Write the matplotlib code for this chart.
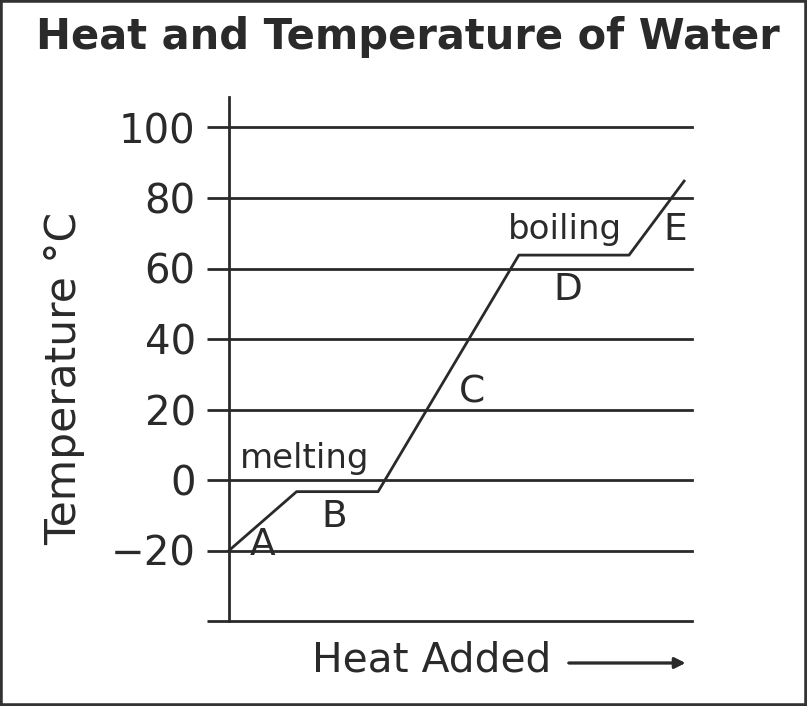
import matplotlib.pyplot as plt
from matplotlib.patches import Rectangle

# data
heat = [0, 14.6, 32.2, 62.6, 86.4, 98.3]
temp = [-20, -3.3, -3.3, 63.8, 63.8, 84.8]
yticks = [-40, -20, 0, 20, 40, 60, 80, 100]
ylabels = ['', '\u221220', '0', '20', '40', '60', '80', '100']
letters = ['A', 'B', 'C', 'D', 'E']
letter_x = [7.3, 22.7, 52.5, 73.2, 96.3]
letter_y = [-18.4, -10.5, 24.7, 53.9, 70.9]
phases = ['melting', 'boiling']
phase_x = [16.4, 72.6]
phase_y = [6.0, 71.2]

ink = '#2a2a2a'
W, H = 807, 706
fig = plt.figure(figsize=(W / 100, H / 100), dpi=100)
ax = fig.add_axes([229 / W, 1 - 621 / H, (692 - 229) / W, (621 - 97) / H])
ax.set_xlim(0, 100)
ax.set_ylim(-40, (480 - 97) / 3.525)

for s in ['top', 'right', 'bottom']:
    ax.spines[s].set_visible(False)
ax.spines['left'].set_color(ink)
ax.spines['left'].set_linewidth(2)

for v in yticks:
    ax.axhline(v, color=ink, lw=2, zorder=1, clip_on=False)

ax.set_yticks(yticks)
ax.set_yticklabels(ylabels, fontsize=29, color=ink)
ax.tick_params(axis='y', length=16, width=2, color=ink, pad=8)
ax.set_xticks([])

ax.plot(heat, temp, color=ink, lw=2, zorder=3, clip_on=False)

for t, x, y in zip(letters, letter_x, letter_y):
    ax.text(x, y, t, fontsize=27, color=ink, ha='center', va='center')
for t, x, y in zip(phases, phase_x, phase_y):
    ax.text(x, y, t, fontsize=24.5, color=ink, ha='center', va='center')

fig.text(408 / W, 1 - 37 / H, 'Heat and Temperature of Water', fontsize=30,
         fontweight='bold', color=ink, ha='center', va='center')
fig.text(64 / W, 1 - 378 / H, 'Temperature \u00b0C', fontsize=30.5, color=ink,
         rotation=90, ha='center', va='center')
fig.text(432 / W, 1 - 660 / H, 'Heat Added', fontsize=29.3, color=ink,
         ha='center', va='center')
fig.add_artist(plt.annotate('', xy=(688 / W, 1 - 663 / H), xytext=(566 / W, 1 - 663 / H),
                            xycoords='figure fraction',
                            arrowprops=dict(arrowstyle='-|>', color=ink, lw=2,
                                            mutation_scale=16)))

fig.add_artist(Rectangle((0, 0), 1, 1, transform=fig.transFigure, fill=False,
                         edgecolor='#333333', lw=4))

fig.savefig('out.png', dpi=100)
